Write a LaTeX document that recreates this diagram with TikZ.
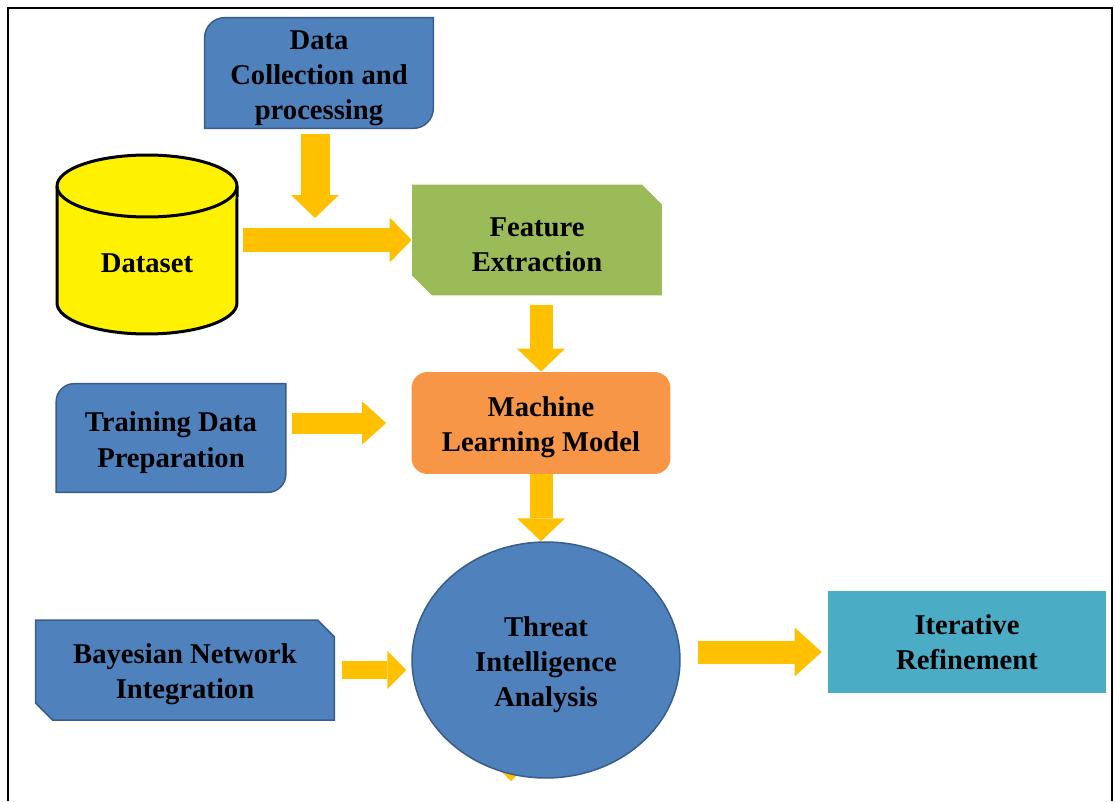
\documentclass[tikz,border=0pt]{standalone}
\usepackage{fontspec}
\setmainfont{Liberation Serif}
\usetikzlibrary{shapes.misc,shapes.geometric,arrows.meta,backgrounds}

\definecolor{boxblue}{HTML}{4F81BD}
\definecolor{edgeblue}{HTML}{385D8A}
\definecolor{boxgreen}{HTML}{9BBB59}
\definecolor{boxorange}{HTML}{F79646}
\definecolor{boxteal}{HTML}{4BACC6}
\definecolor{arrowgold}{HTML}{FFC000}

% taller first line, pushes the label text a little down
\newcommand{\tstrut}{\rule{0pt}{16.5pt}}

\tikzset{
  lbl/.style={align=center, font=\fontsize{16.3}{20}\selectfont\bfseries, inner sep=0pt},
  snipbox/.style={chamfered rectangle, chamfered rectangle corners={north east,south west},
    chamfered rectangle xsep=#1, chamfered rectangle ysep=#1},
  fatarrow/.style n args={3}{draw=arrowgold, line width=#1,
    -{Triangle[width=#2, length=#3, line width=0pt]}},
}

\begin{document}
\begin{tikzpicture}[x=0.02cm,y=-0.02cm]
    \useasboundingbox (0,0) rectangle (1115,801);
    \draw[line width=0.04cm] (8,801) -- (8,8) -- (1112,8) -- (1112,801);

    % boxes
    \node[lbl, minimum width=4.56cm, minimum height=2.2cm] (dcoll) at (319,73) {\tstrut Data\\Collection and\\processing};
    \node[lbl, minimum width=4.58cm, minimum height=2.16cm] (train) at (171,438) {\tstrut Training Data\\Preparation};
    \node[lbl, snipbox=0.2cm, fill=boxgreen, minimum width=5cm, minimum height=2.22cm] (feat) at (537,240) {\tstrut Feature\\Extraction};
    \node[lbl, rounded corners=0.32cm, fill=boxorange, minimum width=5.18cm, minimum height=2.04cm] (ml) at (541,423) {\tstrut Machine\\Learning Model};
    \node[lbl, snipbox=0.17cm, fill=boxblue, draw=edgeblue, line width=0.03cm, minimum width=5.98cm, minimum height=2cm] (bayes) at (185,670) {\tstrut Bayesian Network\\Integration};
    \node[lbl, ellipse, fill=boxblue, draw=edgeblue, line width=0.03cm, minimum width=5.36cm, minimum height=4.72cm] (threat) at (546,660) {\tstrut Threat\\Intelligence\\Analysis};
    \node[lbl, fill=boxteal, minimum width=5.56cm, minimum height=2.04cm] (iter) at (967,642) {Iterative\\Refinement};

    % dataset cylinder
    \filldraw[fill=yellow, draw=black, line width=0.06cm] (57,186) -- (57,303)
      arc[start angle=180, end angle=360, x radius=1.8cm, y radius=0.62cm] -- (237,186)
      arc[start angle=0, end angle=180, x radius=1.8cm, y radius=0.62cm] -- cycle;
    \draw[line width=0.06cm] (57,186) arc[start angle=180, end angle=360, x radius=1.8cm, y radius=0.62cm];
    \node[minimum width=3.6cm, minimum height=3.56cm] (dataset) at (147,245) {};
    \node[lbl] (datasetlbl) at (147,263) {Dataset};

    \begin{scope}[on background layer]
      \foreach \n/\r in {dcoll/0.4cm, train/0.36cm}
        \filldraw[fill=boxblue, draw=edgeblue, line width=0.03cm]
          ([yshift=-\r]\n.north west) arc[start angle=180, end angle=90, radius=\r]
          -- (\n.north east) -- ([yshift=\r]\n.south east)
          arc[start angle=0, end angle=-90, radius=\r] -- (\n.south west) -- cycle;
      % arrow hidden behind the circle
      \coordinate (loopend) at (511,781);
      \draw[fatarrow={0.3cm}{0.6cm}{0.3cm}] (threat.center -| loopend) -- (loopend);
    \end{scope}

    % arrows
    \coordinate (joinpt) at (315,218);
    \draw[fatarrow={0.58cm}{0.96cm}{0.46cm}, shorten <=0.12cm] (dcoll.south -| joinpt) -- (joinpt);
    \draw[fatarrow={0.48cm}{0.9cm}{0.44cm}, shorten <=0.12cm] (dataset.east |- feat.west) -- (feat.west);
    \draw[fatarrow={0.46cm}{0.96cm}{0.46cm}, shorten <=0.18cm] (feat.south -| ml.north) -- (ml.north);
    \draw[fatarrow={0.42cm}{0.86cm}{0.48cm}, shorten <=0.12cm, shorten >=0.5cm] (train.east |- ml.west) -- (ml.west);
    \draw[fatarrow={0.46cm}{0.96cm}{0.46cm}] (ml.south) -- (ml.south |- threat.north);
    \draw[fatarrow={0.36cm}{0.76cm}{0.38cm}, shorten <=0.14cm, shorten >=0.1cm] (bayes.east) -- (bayes.east -| threat.west);
    \coordinate (iterin) at ([yshift=-0.2cm]iter.west);
    \draw[fatarrow={0.46cm}{0.98cm}{0.54cm}, shorten <=0.34cm, shorten >=0.12cm] (threat.east |- iterin) -- (iterin);
\end{tikzpicture}
\end{document}
